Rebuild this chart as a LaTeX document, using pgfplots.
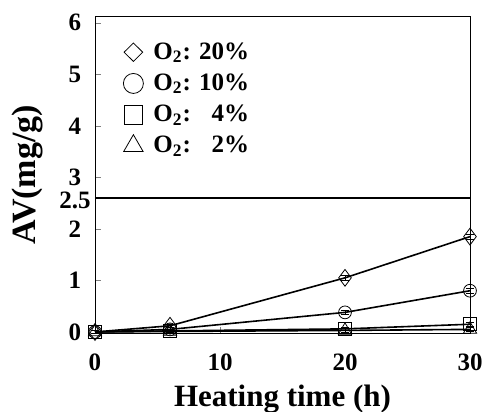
\documentclass[border=0pt]{standalone}
\usepackage{pgfplots}
\pgfplotsset{compat=1.18}
\usetikzlibrary{calc}
\usepackage{fontspec}
\setmainfont{Liberation Serif}
\begin{document}
\begin{tikzpicture}
\begin{axis}[
  scale only axis, width=187.5pt, height=158.5pt,
  xmin=0, xmax=30, ymin=-0.02, ymax=6.13,
  xtick={0,10,20,30}, ytick={0,1,2,3,4,5,6},
  extra y ticks={2.6}, extra y tick labels={2.5},
  extra y tick style={yticklabel style={yshift=-1.2pt}},
  /pgf/number format/assume math mode=true,
  ticklabel style={font=\fontsize{12.5}{14}\selectfont\bfseries},
  yticklabel style={anchor=center, xshift=-10pt},
  xticklabel style={anchor=base, yshift=-19pt},
  tick align=inside, major tick length=3pt,
  xtick pos=bottom, ytick pos=left,
  xlabel={\textbf{Heating time (h)}}, ylabel={\textbf{AV(mg/g)}},
  xlabel style={font=\fontsize{15.5}{18}\selectfont\bfseries, at={(axis description cs:0.5,0)}, anchor=base, yshift=-37pt},
  ylabel style={font=\fontsize{17}{20}\selectfont\bfseries, at={(axis description cs:0,0.5)}, anchor=center, yshift=34pt},
  clip=false,
  legend style={draw=none, fill=none, at={(axis description cs:0,1)}, anchor=north west,
    xshift=11pt, yshift=-9pt,
    font=\fontsize{12.5}{14}\selectfont\bfseries, row sep=1.8pt, column sep=3pt},
  legend cell align=left,
]
\addlegendimage{only marks, black, mark=diamond, mark options={solid, fill=white, thin, xscale=1.35}, mark size=4.6pt}
\addlegendentry{O\textsubscript{2}: 20\%}
\addlegendimage{only marks, black, mark=o, mark options={solid, fill=white, thin}, mark size=5pt}
\addlegendentry{O\textsubscript{2}: 10\%}
\addlegendimage{only marks, black, mark=square, mark options={solid, fill=white, thin}, mark size=4.7pt}
\addlegendentry{O\textsubscript{2}: \phantom{2}4\%}
\addlegendimage{only marks, black, mark=triangle, mark options={solid, fill=white, thin}, mark size=5.6pt}
\addlegendentry{O\textsubscript{2}: \phantom{2}2\%}
\addplot[forget plot, black, thick, mark=diamond, mark options={solid, fill=white, thin, scale=2.1}, error bars/.cd, y dir=both, y explicit] coordinates {(0,0) +- (0,0.03) (6,0.12) +- (0,0.03) (20,1.05) +- (0,0.04) (30,1.85) +- (0,0.05)};
\addplot[forget plot, black, thick, mark=o, mark options={solid, fill=white, thin, scale=1.6}, error bars/.cd, y dir=both, y explicit] coordinates {(0,0) +- (0,0.03) (6,0.05) +- (0,0.03) (20,0.38) +- (0,0.04) (30,0.8) +- (0,0.05)};
\addplot[forget plot, black, thick, mark=square, mark options={solid, fill=white, thin, scale=1.6}, error bars/.cd, y dir=both, y explicit] coordinates {(0,0) +- (0,0.03) (6,0.02) +- (0,0.03) (20,0.06) +- (0,0.03) (30,0.15) +- (0,0.04)};
\addplot[forget plot, black, thick, mark=triangle, mark options={solid, fill=white, thin, scale=1.9}, error bars/.cd, y dir=both, y explicit] coordinates {(0,0) +- (0,0.03) (6,0.01) +- (0,0.03) (20,0.03) +- (0,0.03) (30,0.05) +- (0,0.03)};
\draw[thick] (axis cs:0,2.6) -- (axis cs:30,2.6);
\end{axis}
\pgfresetboundingbox
\path ($(current axis.south west)+(-47.5pt,-39.5pt)$) rectangle ($(current axis.north east)+(6pt,8pt)$);
\end{tikzpicture}
\end{document}
